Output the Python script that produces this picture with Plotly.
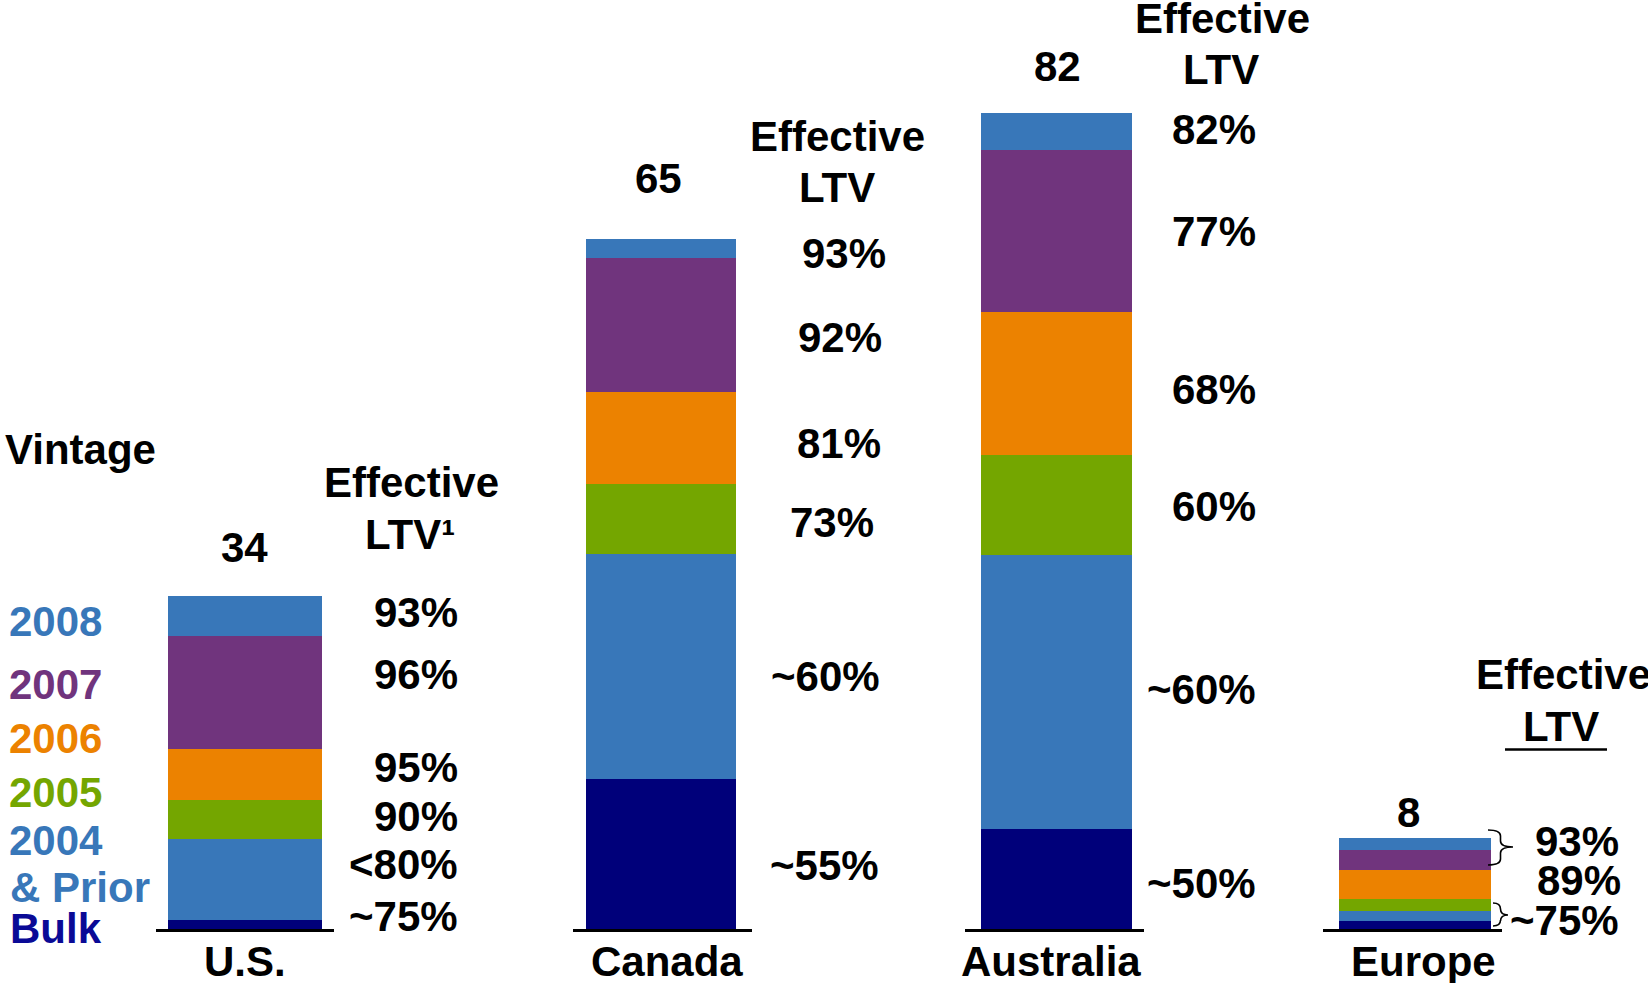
import plotly.graph_objects as go

# ---------------- data ----------------
regions = ["U.S.", "Canada", "Australia", "Europe"]
vintages = ["Bulk", "2004 & Prior", "2005", "2006", "2007", "2008"]
bulk = [0.9, 14.1, 10.0, 0.7]
prior_2004 = [8.3, 21.2, 27.6, 0.9]
v2005 = [4.0, 6.6, 10.0, 1.0]
v2006 = [5.2, 8.7, 14.4, 2.6]
v2007 = [11.5, 12.6, 16.2, 1.8]
v2008 = [4.1, 1.8, 3.8, 1.0]
totals = [34, 65, 82, 8]

ltv_us = ["~75%", "<80%", "90%", "95%", "96%", "93%"]
ltv_canada = ["~55%", "~60%", "73%", "81%", "92%", "93%"]
ltv_australia = ["~50%", "~60%", "60%", "68%", "77%", "82%"]
ltv_europe = ["~75%", "89%", "93%"]

# ---------------- styles / layout ----------------
W, H = 1648, 983
BLUE = "#3877B9"
PURPLE = "#70347D"
ORANGE = "#EC8200"
GREEN = "#74A600"
NAVY = "#00007A"
seg_colors = [NAVY, BLUE, GREEN, ORANGE, PURPLE, BLUE]
series = [bulk, prior_2004, v2005, v2006, v2007, v2008]
FONT = "Liberation Sans, Arial, sans-serif"
FS = 42

def px(x):
    return x / W

def py(y):
    return 1 - y / H

base_px = 929
x_domains_px = [(155.5, 334), (572.7, 751.7), (965, 1144), (1323.3, 1502)]
bar_px = [153.5, 150.3, 151.4, 151.4]
bar_shift_px = [0.25, -1.5, 2.1, 2.4]
y_top = [94.85, 87.5, 93.3, 81.85]

fig = go.Figure()
for r in range(len(regions)):
    ax = "" if r == 0 else str(r + 1)
    d0, d1 = x_domains_px[r]
    dw = d1 - d0
    for s, vals in enumerate(series):
        fig.add_trace(go.Bar(
            x=[regions[r]], y=[vals[r]], name=vintages[s],
            marker=dict(color=seg_colors[s], line=dict(width=0)),
            width=bar_px[r] / dw, xaxis="x" + ax, yaxis="y" + ax,
            showlegend=False, hoverinfo="name+y",
        ))
    off = bar_shift_px[r] / dw
    fig.layout["xaxis" + ax] = dict(
        domain=[px(d0), px(d1)], range=[-0.5 - off, 0.5 - off], showticklabels=False,
        showline=True, linecolor="black", linewidth=2.5, ticks="",
        showgrid=False, zeroline=False, fixedrange=True, anchor="y" + ax,
    )
    fig.layout["yaxis" + ax] = dict(
        domain=[py(base_px), 1], range=[0, y_top[r]], visible=False,
        showgrid=False, zeroline=False, fixedrange=True, anchor="x" + ax,
    )

ann = []

def txt(t, x, y, color="black", xanchor="center", size=FS):
    ann.append(dict(text="<b>" + t + "</b>", x=px(x), y=py(y), xref="paper", yref="paper",
                    xanchor=xanchor, yanchor="middle", showarrow=False,
                    font=dict(family=FONT, size=size, color=color)))

# left vintage key
txt("Vintage", 3, 450, xanchor="left")
key = [("2008", BLUE, 7, 621), ("2007", PURPLE, 7, 684), ("2006", ORANGE, 7, 738.5),
       ("2005", GREEN, 7, 792), ("2004", BLUE, 7, 840.5), ("&amp; Prior", BLUE, 8, 887),
       ("Bulk", "#0A0A96", 8, 928)]
for t, c, x, y in key:
    txt(t, x, y, color=c, xanchor="left")

# totals
total_pos = [(244.7, 547), (658.8, 179), (1057.8, 66), (1408.5, 812.5)]
for v, (x, y) in zip(totals, total_pos):
    txt(str(v), x, y)

# region names
name_pos = [244.5, 666.5, 1050.5, 1423.3]
for n, x in zip(regions, name_pos):
    txt(n, x, 961)

# Effective LTV headers
txt("Effective", 411.5, 483)
txt("LTV¹", 410, 534)
txt("Effective", 837.4, 137)
txt("LTV", 837.4, 187)
txt("Effective", 1222.6, 19)
txt("LTV", 1221, 69.5)
txt("Effective", 1474, 674.5, xanchor="left")
txt("LTV", 1560.8, 726)

# LTV values (bottom -> top)
us_y = [916.7, 864.7, 816.4, 767.3, 674, 612]
for t, y in zip(ltv_us, us_y):
    txt(t, 459.5, y, xanchor="right")
ca_pos = [(880.5, 865.5), (882, 676), (876, 522.4), (883, 443.5), (884, 337), (888, 253)]
for t, (x, y) in zip(ltv_canada, ca_pos):
    txt(t, x, y, xanchor="right")
au_y = [883, 689, 507, 389, 231.6, 129]
for t, y in zip(ltv_australia, au_y):
    txt(t, 1258, y, xanchor="right")
eu_pos = [(1621, 920.5), (1622.5, 880.5), (1621, 841.5)]
for t, (x, y) in zip(ltv_europe, eu_pos):
    txt(t, x, y, xanchor="right")

fig.update_layout(annotations=ann)

# braces and underline
def brace(x0, x1, y0, y1, ym):
    X0, X1 = px(x0), px(x1)
    xm = (X0 + X1) / 2
    Y0, Y1, YM = py(y0), py(y1), py(ym)
    r = (py(y0) - py(y0 + 6))
    return (f"M {X0},{Y0} Q {xm},{Y0} {xm},{Y0 - r} L {xm},{YM + r} "
            f"Q {xm},{YM} {X1},{YM} Q {xm},{YM} {xm},{YM - r} "
            f"L {xm},{Y1 + r} Q {xm},{Y1} {X0},{Y1}")

shapes = [
    dict(type="path", xref="paper", yref="paper", path=brace(1488, 1513, 830, 865, 847),
         line=dict(color="black", width=1.6)),
    dict(type="path", xref="paper", yref="paper", path=brace(1493, 1508, 903, 926, 915),
         line=dict(color="black", width=1.6)),
    dict(type="line", xref="paper", yref="paper", x0=px(1505), x1=px(1607),
         y0=py(749.5), y1=py(749.5), line=dict(color="black", width=2.5)),
]
fig.update_layout(
    shapes=shapes, barmode="stack", width=W, height=H,
    margin=dict(l=0, r=0, t=0, b=0), paper_bgcolor="white", plot_bgcolor="rgba(0,0,0,0)",
    showlegend=False,
)
fig.write_html("out.html", config={"displayModeBar": False},
               post_script="document.body.style.margin='0px';document.body.style.overflow='hidden';")
